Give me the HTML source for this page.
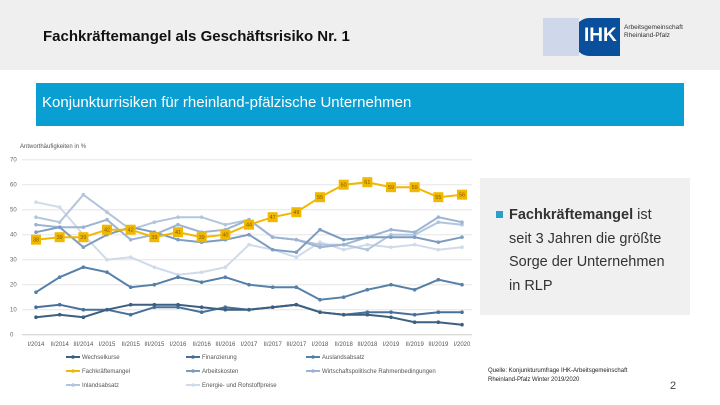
<!DOCTYPE html>
<html><head><meta charset="utf-8"><style>
body{margin:0;width:720px;height:405px;overflow:hidden;background:#fff;font-family:"Liberation Sans",sans-serif;position:relative}
.abs{position:absolute}
</style></head><body>
<div class="abs" style="left:0;top:0;width:720px;height:70px;background:#efefef"></div>
<div class="abs" style="left:43px;top:28px;font-size:15px;font-weight:bold;color:#111">Fachkräftemangel als Geschäftsrisiko Nr. 1</div>
<div class="abs" style="left:543px;top:18px;width:162px;height:38px">
 <div class="abs" style="left:32px;top:0;width:45px;height:38px;background:#0a4f9c;border-radius:14px 0 0 14px"></div>
 <div class="abs" style="left:0;top:0;width:36px;height:38px;background:#cfd8ea"></div>
 <div class="abs" style="left:41px;top:7px;color:#fff;font-weight:bold;font-size:19px">IHK</div>
 <div class="abs" style="left:81px;top:6px;font-size:6.5px;line-height:8px;color:#333">Arbeitsgemeinschaft<br>Rheinland-Pfalz</div>
</div>
<div class="abs" style="left:36px;top:83px;width:648px;height:43px;background:#0a9fd2;color:#fff;font-size:15px;line-height:40px;padding-left:6px;box-sizing:border-box">Konjunkturrisiken für rheinland-pfälzische Unternehmen</div>
<div class="abs" style="left:480px;top:178px;width:210px;height:137px;background:#f0f0f0"></div>
<div class="abs" style="left:496px;top:211px;width:7px;height:7px;background:#2aa0c8"></div>
<div class="abs" style="left:509px;top:204px;font-size:14.5px;line-height:23.5px;color:#333;width:172px"><b>Fachkräftemangel</b> ist<br>seit 3 Jahren die größte<br>Sorge der Unternehmen<br>in RLP</div>
<div class="abs" style="left:488px;top:367px;font-size:6px;line-height:9px;color:#222">Quelle: Konjunkturumfrage IHK-Arbeitsgemeinschaft<br>Rheinland-Pfalz Winter 2019/2020</div>
<div class="abs" style="left:670px;top:380px;font-size:11px;color:#444">2</div>
<svg id="chart" class="abs" style="left:0;top:130px" width="480" height="275"></svg>
<script>
const cats=["I/2014","II/2014","III/2014","I/2015","II/2015","III/2015","I/2016","II/2016","III/2016","I/2017","II/2017","III/2017","I/2018","II/2018","III/2018","I/2019","II/2019","III/2019","I/2020"];
const yTicks=[0,10,20,30,40,50,60,70];
const names=["Wechselkurse","Finanzierung","Auslandsabsatz","Fachkräftemangel","Arbeitskosten","Wirtschaftspolitische Rahmenbedingungen","Inlandsabsatz","Energie- und Rohstoffpreise"];
const colors=["#3d5f80","#47709a","#5580a8","#f2b800","#7c9cc0","#9cb4d2","#b3c5dc","#cfdbe9"];
const wechsel=[7,8,7,10,12,12,12,11,10,10,11,12,9,8,8,7,5,5,4];
const finanz=[11,12,10,10,8,11,11,9,11,10,11,12,9,8,9,9,8,9,9];
const ausland=[17,23,27,25,19,20,23,21,23,20,19,19,14,15,18,20,18,22,20];
const fach=[38,39,39,42,42,39,41,39,40,44,47,49,55,60,61,59,59,55,56];
const arbeit=[41,43,35,40,43,41,38,37,38,40,34,33,42,38,39,39,39,37,39];
const wirt=[44,43,43,46,38,40,44,41,42,46,39,38,35,36,39,42,41,47,45];
const inland=[47,45,56,49,42,45,47,47,44,46,39,38,36,36,34,40,40,45,44];
const energie=[53,51,40,30,31,27,24,25,27,36,34,31,37,34,36,35,36,34,35];
const series=[wechsel,finanz,ausland,fach,arbeit,wirt,inland,energie];
const NS="http://www.w3.org/2000/svg";
const svg=document.getElementById('chart');
const x=i=>36+i*(462-36)/(cats.length-1);
const y=v=>204.7-v*2.5;
function mk(t,a,p){const e=document.createElementNS(NS,t);for(const k in a)e.setAttribute(k,a[k]);(p||svg).appendChild(e);return e;}
const at=mk('text',{x:20,y:18,'font-size':6,fill:'#555'});at.textContent='Antworthäufigkeiten in %';


yTicks.forEach(t=>{
 const l=mk('line',{x1:22,x2:472,y1:y(t),y2:y(t),stroke:t?'#e6e6e6':'#ccc','stroke-width':1});
 
 
 const tx=mk('text',{x:10,y:y(t)+2,'font-size':6,fill:'#666'});tx.textContent=t;
 
 
});
cats.forEach((c,i)=>{
 const tx=mk('text',{x:x(i),y:216,'font-size':6,fill:'#555','text-anchor':'middle'});tx.textContent=c;
 
 
});
const order=[7,6,5,4,2,1,0,3];
order.forEach(si=>{
 const d=series[si];
 const g=mk('g',{});
 
 
 mk('polyline',{points:d.map((v,i)=>x(i)+','+y(v)).join(' '),fill:'none',stroke:colors[si],'stroke-width':2},g);
 d.forEach((v,i)=>{
  if(si===3){
   const r=mk('rect',{x:x(i)-5,y:y(v)-5,width:10,height:10,fill:'#f2b800'},g);
   
   
   const t=mk('text',{x:x(i),y:y(v)+2,'font-size':5.5,fill:'#7a5c00','text-anchor':'middle'},g);t.textContent=v;
  } else mk('circle',{cx:x(i),cy:y(v),r:1.8,fill:colors[si]},g);
 });
});
names.forEach((n,i)=>{
 const col=i%3,row=Math.floor(i/3);
 const lx=66+col*120,ly=227+row*14;
 const g=mk('g',{});
 
 
 mk('line',{x1:lx,x2:lx+14,y1:ly,y2:ly,stroke:colors[i],'stroke-width':2},g);
 mk('circle',{cx:lx+7,cy:ly,r:1.8,fill:colors[i]},g);
 const t=mk('text',{x:lx+16,y:ly+2,'font-size':6,fill:'#555'},g);t.textContent=n;
});
</script>
</body></html>
